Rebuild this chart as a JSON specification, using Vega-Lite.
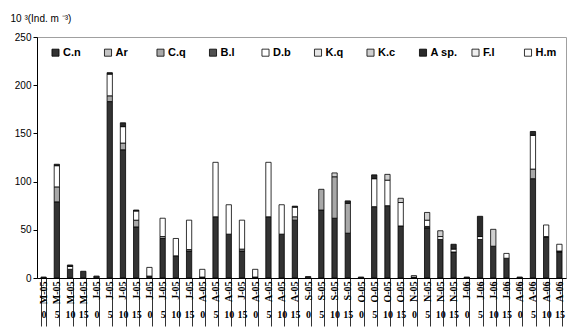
{
  "$schema": "https://vega.github.io/schema/vega-lite/v6.json",
  "autosize": {"type": "none"},
  "padding": {"left": 37, "top": 37, "right": 2, "bottom": 49},
  "width": 529,
  "height": 241,
  "background": "white",
  "config": {
    "view": {"stroke": "#a0a0a0", "strokeWidth": 1},
    "axis": {"grid": false}
  },
  "datasets": {
    "species": [
      {"sp": "C.n", "si": 0}, {"sp": "Ar", "si": 1}, {"sp": "C.q", "si": 2}, {"sp": "B.l", "si": 3},
      {"sp": "D.b", "si": 4}, {"sp": "K.q", "si": 5}, {"sp": "K.c", "si": 6}, {"sp": "A sp.", "si": 7},
      {"sp": "F.l", "si": 8}, {"sp": "H.m", "si": 9}
    ],
    "bars": [
      {"k": "01|M-05|0", "sp": "C.n", "v": 1},
      {"k": "02|M-05|5", "sp": "C.n", "v": 79}, {"k": "02|M-05|5", "sp": "C.q", "v": 15.5}, {"k": "02|M-05|5", "sp": "D.b", "v": 22}, {"k": "02|M-05|5", "sp": "A sp.", "v": 1.5},
      {"k": "03|M-05|10", "sp": "C.n", "v": 9}, {"k": "03|M-05|10", "sp": "D.b", "v": 3}, {"k": "03|M-05|10", "sp": "A sp.", "v": 1.5},
      {"k": "04|M-05|15", "sp": "C.n", "v": 7},
      {"k": "05|J-05|0", "sp": "C.n", "v": 2},
      {"k": "06|J-05|5", "sp": "C.n", "v": 183}, {"k": "06|J-05|5", "sp": "C.q", "v": 6}, {"k": "06|J-05|5", "sp": "D.b", "v": 22.5}, {"k": "06|J-05|5", "sp": "A sp.", "v": 1.5},
      {"k": "07|J-05|10", "sp": "C.n", "v": 133}, {"k": "07|J-05|10", "sp": "C.q", "v": 7}, {"k": "07|J-05|10", "sp": "D.b", "v": 17}, {"k": "07|J-05|10", "sp": "A sp.", "v": 4},
      {"k": "08|J-05|15", "sp": "C.n", "v": 53}, {"k": "08|J-05|15", "sp": "C.q", "v": 7}, {"k": "08|J-05|15", "sp": "D.b", "v": 9.5}, {"k": "08|J-05|15", "sp": "A sp.", "v": 1},
      {"k": "09|J-05|0", "sp": "C.n", "v": 2}, {"k": "09|J-05|0", "sp": "D.b", "v": 9},
      {"k": "10|J-05|5", "sp": "C.n", "v": 41}, {"k": "10|J-05|5", "sp": "C.q", "v": 2}, {"k": "10|J-05|5", "sp": "D.b", "v": 19},
      {"k": "11|J-05|10", "sp": "C.n", "v": 23}, {"k": "11|J-05|10", "sp": "D.b", "v": 18},
      {"k": "12|J-05|15", "sp": "C.n", "v": 28}, {"k": "12|J-05|15", "sp": "C.q", "v": 1.5}, {"k": "12|J-05|15", "sp": "D.b", "v": 30.5},
      {"k": "13|A-05|0", "sp": "C.n", "v": 1}, {"k": "13|A-05|0", "sp": "D.b", "v": 8},
      {"k": "14|A-05|5", "sp": "C.n", "v": 63.5}, {"k": "14|A-05|5", "sp": "D.b", "v": 56.5},
      {"k": "15|A-05|10", "sp": "C.n", "v": 45.5}, {"k": "15|A-05|10", "sp": "D.b", "v": 30.5},
      {"k": "16|J-05|15", "sp": "C.n", "v": 28}, {"k": "16|J-05|15", "sp": "C.q", "v": 2}, {"k": "16|J-05|15", "sp": "D.b", "v": 30},
      {"k": "17|A-05|0", "sp": "C.n", "v": 1}, {"k": "17|A-05|0", "sp": "D.b", "v": 8},
      {"k": "18|A-05|5", "sp": "C.n", "v": 63.5}, {"k": "18|A-05|5", "sp": "D.b", "v": 56.5},
      {"k": "19|A-05|10", "sp": "C.n", "v": 45.5}, {"k": "19|A-05|10", "sp": "D.b", "v": 30.5},
      {"k": "20|A-05|15", "sp": "C.n", "v": 60}, {"k": "20|A-05|15", "sp": "C.q", "v": 3.5}, {"k": "20|A-05|15", "sp": "D.b", "v": 10}, {"k": "20|A-05|15", "sp": "A sp.", "v": 1},
      {"k": "21|S-05|0", "sp": "C.n", "v": 1.5},
      {"k": "22|S-05|5", "sp": "C.n", "v": 70.5}, {"k": "22|S-05|5", "sp": "C.q", "v": 21.5},
      {"k": "23|S-05|10", "sp": "C.n", "v": 62}, {"k": "23|S-05|10", "sp": "C.q", "v": 43}, {"k": "23|S-05|10", "sp": "K.c", "v": 4},
      {"k": "24|S-05|15", "sp": "C.n", "v": 46.5}, {"k": "24|S-05|15", "sp": "C.q", "v": 31}, {"k": "24|S-05|15", "sp": "A sp.", "v": 2.5},
      {"k": "25|O-05|0", "sp": "C.n", "v": 1},
      {"k": "26|O-05|5", "sp": "C.n", "v": 74}, {"k": "26|O-05|5", "sp": "D.b", "v": 29}, {"k": "26|O-05|5", "sp": "A sp.", "v": 4},
      {"k": "27|O-05|10", "sp": "C.n", "v": 75}, {"k": "27|O-05|10", "sp": "D.b", "v": 26.5}, {"k": "27|O-05|10", "sp": "K.c", "v": 6},
      {"k": "28|O-05|15", "sp": "C.n", "v": 54}, {"k": "28|O-05|15", "sp": "D.b", "v": 24.3}, {"k": "28|O-05|15", "sp": "K.c", "v": 4.4},
      {"k": "29|N-05|0", "sp": "C.n", "v": 1}, {"k": "29|N-05|0", "sp": "D.b", "v": 1.5},
      {"k": "30|N-05|5", "sp": "C.n", "v": 52}, {"k": "30|N-05|5", "sp": "B.l", "v": 1.5}, {"k": "30|N-05|5", "sp": "D.b", "v": 6.5}, {"k": "30|N-05|5", "sp": "K.c", "v": 8},
      {"k": "31|N-05|10", "sp": "C.n", "v": 40}, {"k": "31|N-05|10", "sp": "D.b", "v": 3}, {"k": "31|N-05|10", "sp": "K.c", "v": 6},
      {"k": "32|N-05|15", "sp": "C.n", "v": 27}, {"k": "32|N-05|15", "sp": "D.b", "v": 3}, {"k": "32|N-05|15", "sp": "A sp.", "v": 5},
      {"k": "33|J-06|0", "sp": "C.n", "v": 1},
      {"k": "34|J-06|5", "sp": "C.n", "v": 40}, {"k": "34|J-06|5", "sp": "D.b", "v": 3}, {"k": "34|J-06|5", "sp": "A sp.", "v": 21},
      {"k": "35|J-06|10", "sp": "C.n", "v": 33}, {"k": "35|J-06|10", "sp": "K.c", "v": 17.5},
      {"k": "36|J-06|15", "sp": "C.n", "v": 20.5}, {"k": "36|J-06|15", "sp": "D.b", "v": 5},
      {"k": "37|A-06|0", "sp": "C.n", "v": 1},
      {"k": "38|A-06|5", "sp": "C.n", "v": 103}, {"k": "38|A-06|5", "sp": "C.q", "v": 10}, {"k": "38|A-06|5", "sp": "D.b", "v": 35}, {"k": "38|A-06|5", "sp": "A sp.", "v": 4},
      {"k": "39|A-06|10", "sp": "C.n", "v": 42}, {"k": "39|A-06|10", "sp": "C.q", "v": 1}, {"k": "39|A-06|10", "sp": "D.b", "v": 12},
      {"k": "40|A-06|15", "sp": "C.n", "v": 27}, {"k": "40|A-06|15", "sp": "B.l", "v": 1}, {"k": "40|A-06|15", "sp": "D.b", "v": 7}
    ]
  },
  "data": {"name": "bars"},
  "transform": [
    {"lookup": "sp", "from": {"data": {"name": "species"}, "key": "sp", "fields": ["si"]}}
  ],
  "layer": [
    {
      "mark": {"type": "bar", "stroke": "black", "strokeWidth": 0.8},
      "encoding": {
        "x": {
          "field": "k", "type": "nominal",
          "scale": {"paddingInner": 0.6, "paddingOuter": 0.3},
          "axis": {
            "orient": "bottom", "title": null,
            "labelExpr": "split(datum.value, '|')[1]",
            "labelAngle": -90, "labelFont": "Liberation Serif", "labelFontWeight": "bold",
            "labelFontSize": 10, "labelColor": "black", "labelPadding": -45,
            "tickBand": "extent", "tickSize": 48, "tickColor": "#333", "tickWidth": 1,
            "domainColor": "black", "domainWidth": 1
          }
        },
        "y": {
          "aggregate": "sum", "field": "v", "type": "quantitative",
          "stack": "zero",
          "scale": {"domain": [0, 250], "nice": false},
          "axis": {
            "values": [0, 50, 100, 150, 200, 250],
            "title": "10 ³(Ind. m ⁻³)",
            "titleAngle": 0, "titleX": -27, "titleY": -19, "titleAlign": "left", "titleBaseline": "middle",
            "titleFont": "Liberation Sans", "titleFontSize": 10, "titleFontWeight": "normal", "titleColor": "black",
            "labelFont": "Liberation Sans", "labelFontSize": 10, "labelColor": "black",
            "tickSize": 4, "tickColor": "black", "domainColor": "black"
          }
        },
        "color": {
          "field": "sp", "type": "nominal",
          "scale": {
            "domain": ["C.n", "Ar", "C.q", "B.l", "D.b", "K.q", "K.c", "A sp.", "F.l", "H.m"],
            "range": ["#333333", "#c4c4c4", "#a8a8a8", "#505050", "#ffffff", "#e6e6e6", "#cfcfcf", "#2a2a2a", "#efefef", "#fafafa"]
          },
          "legend": {
            "orient": "none", "legendX": 13, "legendY": 10,
            "direction": "horizontal", "columns": 10, "gridAlign": "all",
            "columnPadding": 12.5, "title": null,
            "symbolType": "square", "symbolSize": 50, "symbolStrokeColor": "black", "symbolStrokeWidth": 0.8,
            "labelFont": "Liberation Sans", "labelFontWeight": "bold", "labelFontSize": 11, "labelColor": "black",
            "labelOffset": 2
          }
        },
        "order": {"field": "si", "type": "quantitative", "sort": "ascending"}
      }
    },
    {
      "mark": {"type": "point", "opacity": 0},
      "encoding": {
        "x": {
          "field": "k", "type": "nominal",
          "scale": {"paddingInner": 0.6, "paddingOuter": 0.3},
          "axis": {
            "orient": "bottom", "title": null,
            "labelExpr": "split(datum.value, '|')[2]",
            "labelAngle": 0, "labelFont": "Liberation Serif", "labelFontWeight": "bold",
            "labelFontSize": 10, "labelColor": "black", "labelPadding": 31,
            "labelBaseline": "top",
            "ticks": false, "domain": false
          }
        }
      }
    }
  ],
  "resolve": {"scale": {"x": "independent"}, "axis": {"x": "independent"}}
}
